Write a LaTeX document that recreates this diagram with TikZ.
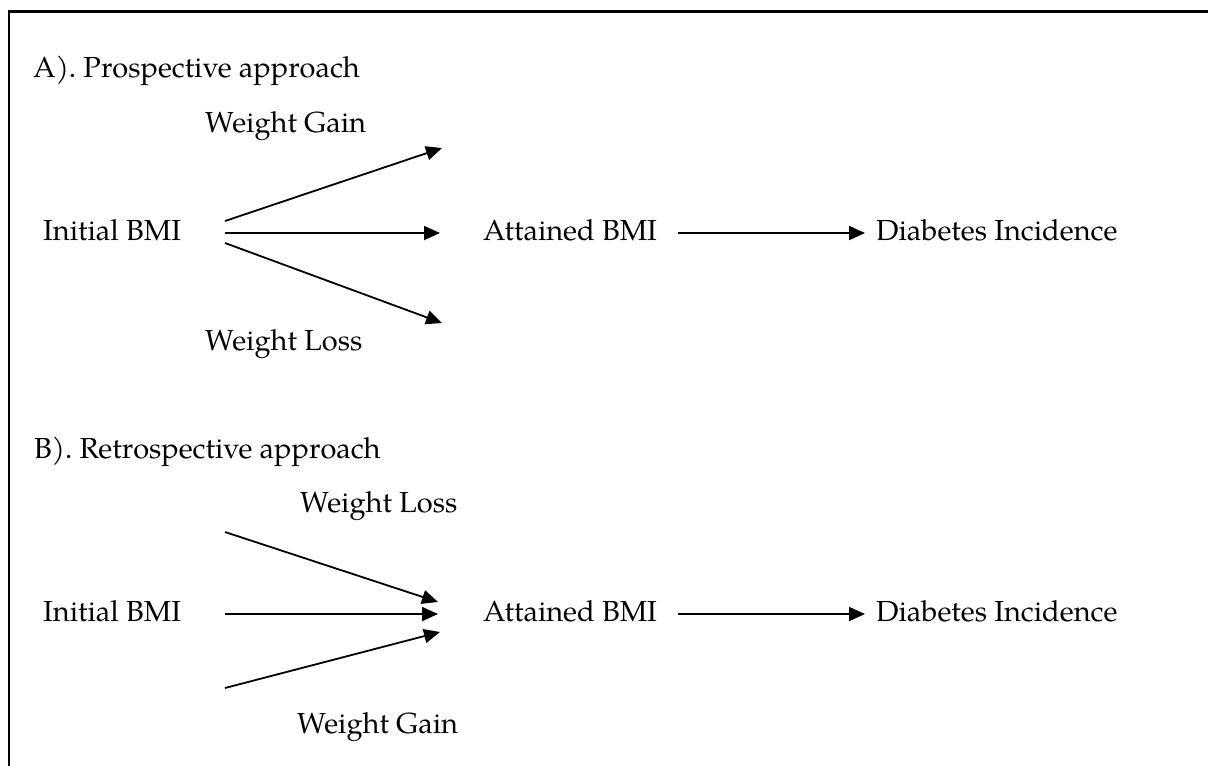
\documentclass[tikz,border=0pt]{standalone}
\usepackage{fontspec}
\setmainfont{texgyrepagella-regular.otf}
\usetikzlibrary{arrows.meta}
\begin{document}
\begin{tikzpicture}[x=1pt,y=-1pt,
  lbl/.style={anchor=base west,inner sep=0pt,font=\fontsize{29}{34}\selectfont},
  arr/.style={line width=1.8pt,-{Triangle[length=16pt,width=14pt]}},
  frame/.style={line width=2.3pt}]
\useasboundingbox (0,0) rectangle (1208,766);
% frame (cut at right and bottom)
\coordinate (fbl) at (9,767);
\coordinate (ftl) at (9,11.5);
\coordinate (ftr) at (1209,11.5);
\draw[frame] (fbl) -- (ftl) -- (ftr);
% A
\node[lbl] (titA) at (33,77) {A). Prospective approach};
\node[lbl] (gainA) at (205,132) {Weight Gain};
\node[lbl] (initA) at (43,240) {Initial BMI};
\node[lbl] (attA) at (483,240) {Attained BMI};
\node[lbl] (diabA) at (876,240) {Diabetes Incidence};
\node[lbl] (lossA) at (205,350) {Weight Loss};
\coordinate (a1s) at (225,221); \coordinate (a1e) at (442,148);
\coordinate (a2s) at (225,233); \coordinate (a2e) at (440,233);
\coordinate (a3s) at (225,243); \coordinate (a3e) at (442,323);
\coordinate (a4s) at (678,233); \coordinate (a4e) at (865,233);
\draw[arr] (a1s) -- (a1e);
\draw[arr] (a2s) -- (a2e);
\draw[arr] (a3s) -- (a3e);
\draw[arr] (a4s) -- (a4e);
% B
\node[lbl] (titB) at (34,458) {B). Retrospective approach};
\node[lbl] (lossB) at (300,512) {Weight Loss};
\node[lbl] (initB) at (43,621) {Initial BMI};
\node[lbl] (attB) at (483,621) {Attained BMI};
\node[lbl] (diabB) at (876,621) {Diabetes Incidence};
\node[lbl] (gainB) at (297,733) {Weight Gain};
\coordinate (b1s) at (225,532); \coordinate (b1e) at (438,602);
\coordinate (b2s) at (225,614); \coordinate (b2e) at (438,614);
\coordinate (b3s) at (225,688); \coordinate (b3e) at (440,632);
\coordinate (b4s) at (678,614); \coordinate (b4e) at (865,614);
\draw[arr] (b1s) -- (b1e);
\draw[arr] (b2s) -- (b2e);
\draw[arr] (b3s) -- (b3e);
\draw[arr] (b4s) -- (b4e);
\end{tikzpicture}
\end{document}
